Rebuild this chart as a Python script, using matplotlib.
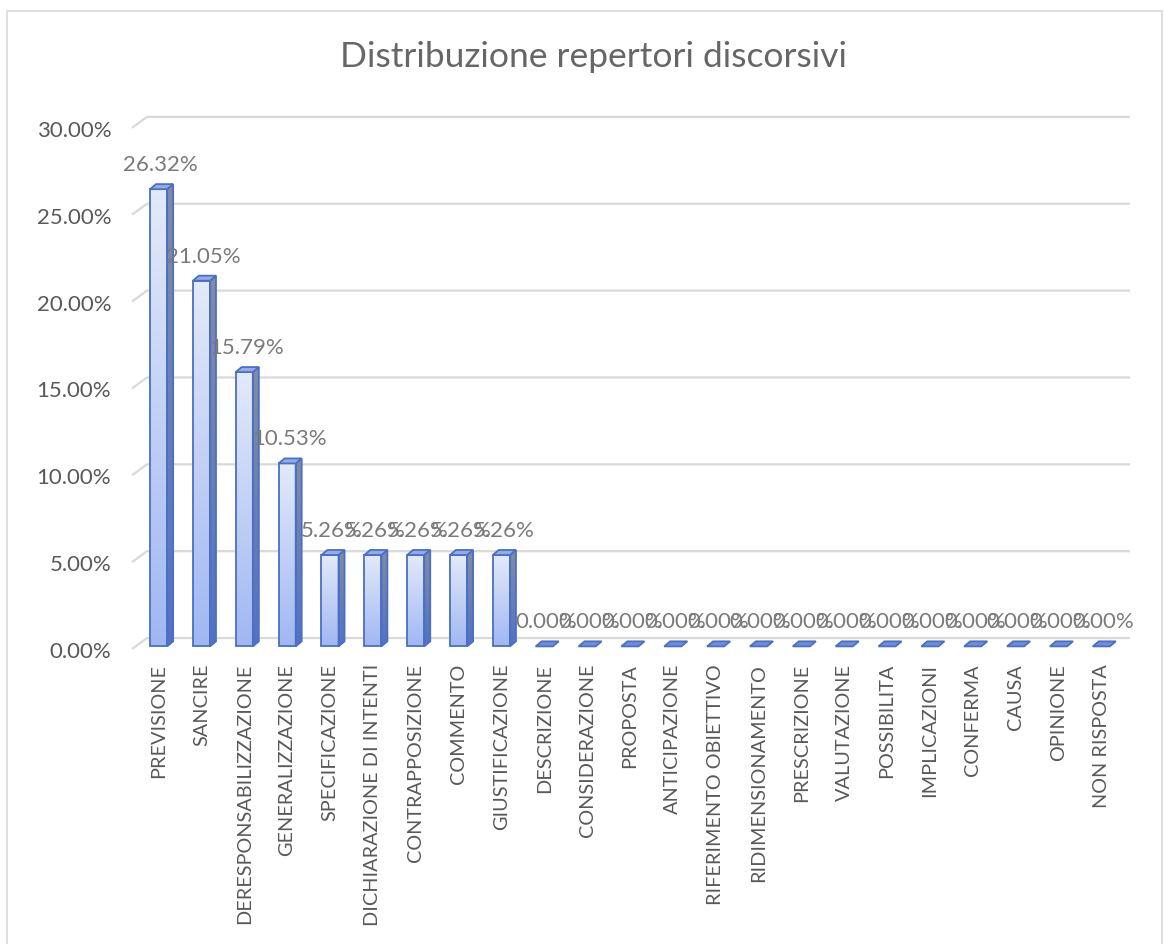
import numpy as np
import matplotlib
matplotlib.use("Agg")
import matplotlib.pyplot as plt
from matplotlib.patches import Polygon, Rectangle
from matplotlib.colors import LinearSegmentedColormap

categories = ["PREVISIONE", "SANCIRE", "DERESPONSABILIZZAZIONE", "GENERALIZZAZIONE",
              "SPECIFICAZIONE", "DICHIARAZIONE DI INTENTI", "CONTRAPPOSIZIONE", "COMMENTO",
              "GIUSTIFICAZIONE", "DESCRIZIONE", "CONSIDERAZIONE", "PROPOSTA", "ANTICIPAZIONE",
              "RIFERIMENTO OBIETTIVO", "RIDIMENSIONAMENTO", "PRESCRIZIONE", "VALUTAZIONE",
              "POSSIBILITA", "IMPLICAZIONI", "CONFERMA", "CAUSA", "OPINIONE", "NON RISPOSTA"]
values = [26.32, 21.05, 15.79, 10.53, 5.26, 5.26, 5.26, 5.26, 5.26,
          0, 0, 0, 0, 0, 0, 0, 0, 0, 0, 0, 0, 0, 0]
yticks = [0, 5, 10, 15, 20, 25, 30]
title = "Distribuzione repertori discorsivi"

plt.rcParams['font.family'] = ['Lato', 'DejaVu Sans']

W, H = 1165, 945
fig = plt.figure(figsize=(W / 100, H / 100), dpi=100)
fig.patch.set_facecolor('white')

left_px, right_px, bot_px, top_px = 132, 1130, 650, 100
ax = fig.add_axes([left_px / W, 1 - bot_px / H, (right_px - left_px) / W, (bot_px - top_px) / H])
XL = (-0.62, 22.67)
YL = (0, 31.66)
for s in ax.spines.values():
    s.set_visible(False)
ax.set_facecolor('none')

grid_c = '#d9d9d9'
gdx, gdy = 0.35, 0.63
for t in yticks:
    ax.plot([XL[0], XL[0] + gdx, XL[1]], [t, t + gdy, t + gdy], color=grid_c, lw=1.6,
            clip_on=False, zorder=1, solid_capstyle='butt')

edge = '#4a6fc4'
front_cmap = LinearSegmentedColormap.from_list('f', ['#a0b7f2', '#e3eaf9'])
side_cmap = LinearSegmentedColormap.from_list('s', ['#5272c6', '#838ca3'])
top_c = '#93abe8'
zero_c = '#6e8ed8'
grad = np.linspace(0, 1, 256).reshape(-1, 1)

w, dx, dy, base = 0.40, 0.14, 0.29, 0.15
for i, v in enumerate(values):
    x0, x1 = i - w / 2, i + w / 2
    top = base + v
    if v > 0:
        ax.imshow(grad, extent=(x0, x1, base, top), aspect='auto', cmap=front_cmap,
                  origin='lower', zorder=3, interpolation='bilinear')
        ax.add_patch(Rectangle((x0, base), w, v, fill=False, ec=edge, lw=1.3, zorder=5))
        side = Polygon([(x1, base), (x1 + dx, base + dy), (x1 + dx, top + dy), (x1, top)],
                       closed=True, fill=False, ec=edge, lw=1.3, zorder=5)
        ax.add_patch(side)
        im = ax.imshow(grad, extent=(x1, x1 + dx, base, top + dy), aspect='auto', cmap=side_cmap,
                       origin='lower', zorder=3, interpolation='bilinear')
        clip = Polygon(side.get_xy(), closed=True, transform=ax.transData)
        im.set_clip_path(clip)
    ax.add_patch(Polygon([(x0, top), (x1, top), (x1 + dx, top + dy), (x0 + dx, top + dy)],
                         closed=True, fc=(top_c if v > 0 else zero_c), ec=edge, lw=1.3, zorder=5))
    ax.text(i + 0.05, top + 1.45, f"{v:.2f}%", ha='center', va='center', fontsize=16,
            color='#7a7a7a', zorder=6)

ax.set_xlim(*XL)
ax.set_ylim(*YL)
ax.set_yticks(yticks)
ax.set_yticklabels([f"{t:.2f}%" for t in yticks])
ax.set_xticks(range(len(categories)))
ax.set_xticklabels(categories, rotation=90)
ax.tick_params(axis='y', length=0, pad=15, labelsize=16, labelcolor='#595959')
ax.tick_params(axis='x', length=0, pad=10, labelsize=14.3, labelcolor='#595959')

fig.text(594 / W, 1 - 57 / H, title, ha='center', va='center', fontsize=25.5, color='#666666')
fig.add_artist(Rectangle((7 / W, -0.01), (1162 - 7) / W, (H - 12) / H + 0.01, transform=fig.transFigure,
                         fill=False, ec='#d9d9d9', lw=1.2))

fig.savefig('out.png', dpi=100)
